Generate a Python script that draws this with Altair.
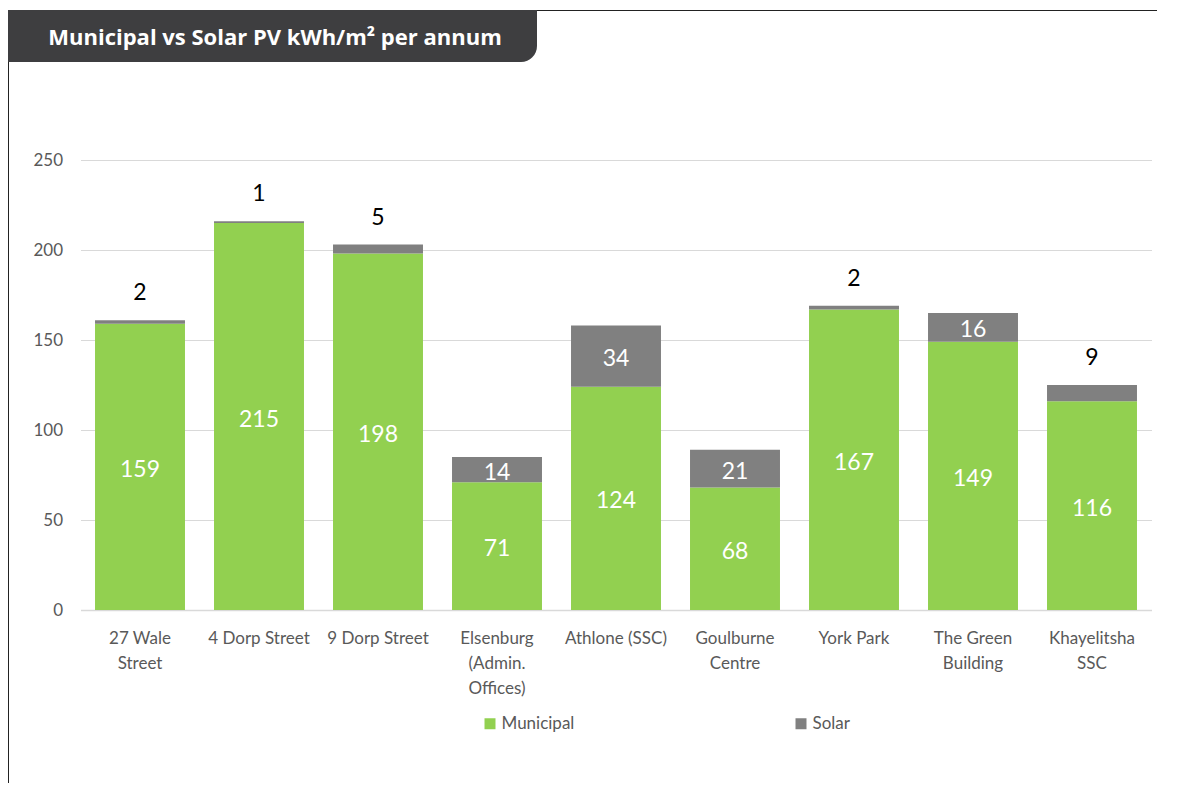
import altair as alt
import pandas as pd

# ---- data ----
buildings = ["27 Wale|Street", "4 Dorp Street", "9 Dorp Street", "Elsenburg|(Admin.|Offices)",
             "Athlone (SSC)", "Goulburne|Centre", "York Park", "The Green|Building", "Khayelitsha|SSC"]
municipal = [159, 215, 198, 71, 124, 68, 167, 149, 116]
solar = [2, 1, 5, 14, 34, 21, 2, 16, 9]
series = ["Municipal", "Solar"]
colors = ["#92d050", "#808080"]
title_text = "Municipal vs Solar PV kWh/m\u00b2 per annum"

# ---- build tables ----
rows = []
for b, m, s in zip(buildings, municipal, solar):
    rows.append({"building": b, "series": "Municipal", "value": m, "ord": 0})
    rows.append({"building": b, "series": "Solar", "value": s, "ord": 1})
bars_df = pd.DataFrame(rows)

lab_rows = []
for b, m, s in zip(buildings, municipal, solar):
    lab_rows.append({"building": b, "pos": m / 2, "label": str(m), "kind": "in"})
    if s >= 12:
        lab_rows.append({"building": b, "pos": m + s / 2, "label": str(s), "kind": "in"})
    else:
        lab_rows.append({"building": b, "pos": m + s, "label": str(s), "kind": "out"})
lab_df = pd.DataFrame(lab_rows)

FONT = "Lato"
OX, OY = 80.5, 160  # page position of plot origin

x_enc = alt.X("building:N", sort=buildings,
              scale=alt.Scale(paddingInner=0.244, paddingOuter=0.122),
              axis=alt.Axis(title=None, labelAngle=0, labelFont=FONT, labelFontSize=17,
                            labelColor="#595959", labelPadding=20, labelLineHeight=25,
                            labelExpr="split(datum.value, '|')", ticks=False,
                            domainColor="#d9d9d9", domainWidth=1.5, labelBaseline="top"))

bars = alt.Chart(bars_df).mark_bar().encode(
    x=x_enc,
    y=alt.Y("value:Q", stack="zero",
            scale=alt.Scale(domain=[0, 250], nice=False),
            axis=alt.Axis(title=None, values=[0, 50, 100, 150, 200, 250], labelFont=FONT,
                          labelFontSize=17, labelColor="#595959", labelPadding=18,
                          ticks=False, domain=False, gridColor="#d9d9d9", gridWidth=1)),
    color=alt.Color("series:N", scale=alt.Scale(domain=series, range=colors),
                    legend=alt.Legend(title=None, orient="none", legendX=401, legendY=555,
                                      direction="horizontal", symbolType="square",
                                      symbolSize=121, symbolStrokeWidth=0, labelFont=FONT,
                                      labelFontSize=17, labelColor="#595959", labelOffset=3,
                                      columnPadding=218, padding=0)),
    order=alt.Order("ord:Q"),
)

in_labels = alt.Chart(lab_df).transform_filter("datum.kind == 'in'").mark_text(
    font=FONT, fontSize=23, color="white", baseline="middle", dy=3).encode(
    x=alt.X("building:N", sort=buildings), y="pos:Q", text="label:N")

out_labels = alt.Chart(lab_df).transform_filter("datum.kind == 'out'").mark_text(
    font=FONT, fontSize=23, color="black", baseline="middle", dy=-27).encode(
    x=alt.X("building:N", sort=buildings), y="pos:Q", text="label:N")

one = alt.Data(values=[{"a": 1}])
frame_top = alt.Chart(one).mark_rule(color="#222222", strokeWidth=1).encode(
    x=alt.value(8 - OX), x2=alt.value(1181 - OX), y=alt.value(10.5 - OY))
frame_left = alt.Chart(one).mark_rule(color="#222222", strokeWidth=1).encode(
    x=alt.value(8.5 - OX), y=alt.value(10 - OY), y2=alt.value(793 - OY))
title_box = alt.Chart(one).mark_rect(color="#3e3e40", cornerRadiusBottomRight=16).encode(
    x=alt.value(8 - OX), x2=alt.value(537 - OX), y=alt.value(10 - OY), y2=alt.value(62 - OY))
title = alt.Chart(one).mark_text(text=title_text, font="Open Sans", fontWeight="bold", fontSize=22,
                                 color="white", align="center", baseline="middle").encode(
    x=alt.value(275 - OX), y=alt.value(38 - OY))

chart = alt.layer(frame_top, frame_left, title_box, title, bars, in_labels, out_labels).properties(
    width=1071, height=450,
    padding={"left": OX - 8, "top": OY - 8, "right": 1173 - 8 - OX - 1071 - 8, "bottom": 775 - (OY - 8) - 450},
    autosize=alt.AutoSizeParams(type="none"),
).configure_view(stroke=None)

chart.save("out.html", embed_options={"renderer": "svg", "actions": False})
